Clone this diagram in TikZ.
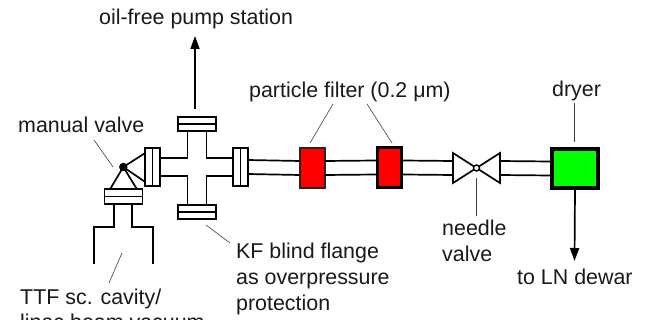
\documentclass[tikz,border=0pt]{standalone}
\usepackage{fontspec}
\setmainfont{Liberation Sans}
\usetikzlibrary{arrows.meta}
\tikzset{
  pipe/.style={line width=1.7pt,black},
  flangeh/.style={draw=black,line width=1.7pt,fill=white,minimum width=38pt,minimum height=14.5pt,inner sep=0pt,outer sep=0pt},
  flangev/.style={draw=black,line width=1.7pt,fill=white,minimum width=14.5pt,minimum height=38pt,inner sep=0pt,outer sep=0pt},
  leader/.style={line width=0.6pt,black!75},
  txt/.style={font=\fontsize{21.4}{24.5}\selectfont,anchor=base west,inner sep=0pt,text=black!90},
  filterthin/.style={draw=black!85,line width=1.5pt,fill=red,minimum width=25pt,minimum height=40pt,inner sep=0pt,outer sep=0pt},
  filterthick/.style={draw=black,line width=3.2pt,fill=red,minimum width=24pt,minimum height=40pt,inner sep=0pt,outer sep=1.6pt},
  dryerbox/.style={draw=black,line width=3.6pt,fill=green,minimum width=46pt,minimum height=39pt,inner sep=0pt,outer sep=1.8pt},
  flowarrow/.style={line width=1.7pt,-{Triangle[length=13pt,width=9pt]}},
  vtri/.style={draw=black,line width=1.7pt,fill=white,line join=miter}
}
\begin{document}
\begin{tikzpicture}[x=1pt,y=-1pt]
\useasboundingbox (0,0) rectangle (645,320);
\clip (0,0) rectangle (645,320);
\fill[white] (0,0) rectangle (645,320);
% flanges
\node[flangev] (lf) at (152.5,167) {};
\node[flangev] (rf) at (240.5,167) {};
\node[flangeh] (tf) at (197,124) {};
\node[flangeh] (bf) at (197,212) {};
\node[flangeh] (vf) at (123.5,196.5) {};
\draw[pipe] (lf.north) -- (lf.south);
\draw[pipe] (rf.north) -- (rf.south);
\draw[pipe] (tf.west) -- (tf.east);
\draw[pipe] (bf.west) -- (bf.east);
\draw[pipe] (vf.west) -- (vf.east);
% cross
\draw[pipe] ([yshift=9pt]lf.east) -| ([xshift=-9.5pt]tf.south);
\draw[pipe] ([yshift=9pt]rf.west) -| ([xshift=9.5pt]tf.south);
\draw[pipe] ([yshift=-9pt]lf.east) -| ([xshift=-9.5pt]bf.north);
\draw[pipe] ([yshift=-9pt]rf.west) -| ([xshift=9.5pt]bf.north);
% manual valve
\node[circle,fill=black,minimum size=8.5pt,inner sep=0pt] (mv) at (123.3,167) {};
\draw[pipe] (mv.center) -- ([yshift=14pt]lf.west);
\draw[pipe] (mv.center) -- ([yshift=-15pt]lf.west);
\draw[pipe] (mv.center) -- ([xshift=-13.5pt]vf.north);
\draw[pipe] (mv.center) -- ([xshift=13.5pt]vf.north);
% cavity
\coordinate (cl) at (94,264);
\coordinate (cr) at (153,264);
\draw[pipe] ([xshift=-9.5pt]vf.south) -- ++(0,23) -| (cl);
\draw[pipe] ([xshift=8.5pt]vf.south) -- ++(0,23) -| (cr);
% filters, valve, dryer
\node[filterthin] (f1) at (312.5,168) {};
\node[filterthick] (f2) at (389.5,167.5) {};
\node[dryerbox] (dr) at (575,168.5) {};
\coordinate (nv) at (476.5,168);
\coordinate (nvl) at (453,168);
\coordinate (nvr) at (500,168);
\foreach \s in {7,-7}{
  \draw[pipe] ([yshift=\s pt]rf.east) -- ([yshift=\s pt]f1.west);
  \draw[pipe] ([yshift=\s pt]f1.east) -- ([yshift=\s pt]f2.west);
  \draw[pipe] ([yshift=\s pt]f2.east) -- ([yshift=\s pt]nvl);
  \draw[pipe] ([yshift=\s pt]nvr) -- ([yshift=\s pt]dr.west);
}
\draw[vtri] (nv) -- ([yshift=15pt]nvl) -- ([yshift=-15pt]nvl) -- cycle;
\draw[vtri] (nv) -- ([yshift=15pt]nvr) -- ([yshift=-15pt]nvr) -- cycle;
\node[circle,draw=black,line width=1.4pt,fill=white,minimum size=6pt,inner sep=0pt] (nc) at (nv) {};
% arrows
\coordinate (pump) at (195,36);
\coordinate (pumpstart) at (195,109);
\coordinate (ln) at (574.5,261);
\draw[flowarrow] (pumpstart) -- (pump);
\draw[flowarrow] (dr.south) -- (ln);
% labels
\node[txt] (t1) at (99,25) {oil-free pump station};
\node[txt] (t2) at (18,133) {manual valve};
\node[txt] (t3) at (249,98) {particle filter (0.2 μm)};
\node[txt] (t4) at (552,97) {dryer};
\node[txt] (t5) at (442,236) {needle};
\node[txt] (t5b) at (442,262) {valve};
\node[txt] (t6) at (517,285) {to LN dewar};
\node[txt] (t7) at (236,259) {KF blind flange};
\node[txt] (t7b) at (236,285) {as overpressure};
\node[txt] (t7c) at (236,310) {protection};
\node[txt] (t8) at (20,305) {TTF sc. cavity/};
\node[txt] (t8b) at (20,329) {linac beam vacuum};
% leaders
\coordinate (a1) at (94,140); \coordinate (a2) at (113,167);
\draw[leader] (a1) -- (a2);
\coordinate (b1) at (122,253); \coordinate (b2) at (109,283);
\draw[leader] (b1) -- (b2);
\coordinate (c1) at (206,225); \coordinate (c2) at (230,243);
\draw[leader] (c1) -- (c2);
\coordinate (d1) at (333,104); \coordinate (d2) at (310,143);
\draw[leader] (d1) -- (d2);
\coordinate (e1) at (367,104); \coordinate (e2) at (392,143);
\draw[leader] (e1) -- (e2);
\coordinate (g1) at (574.5,103); \coordinate (g2) at (574.5,142);
\draw[leader] (g1) -- (g2);
\coordinate (h1) at (476,178); \coordinate (h2) at (476,216);
\draw[leader] (h1) -- (h2);
\end{tikzpicture}
\end{document}
